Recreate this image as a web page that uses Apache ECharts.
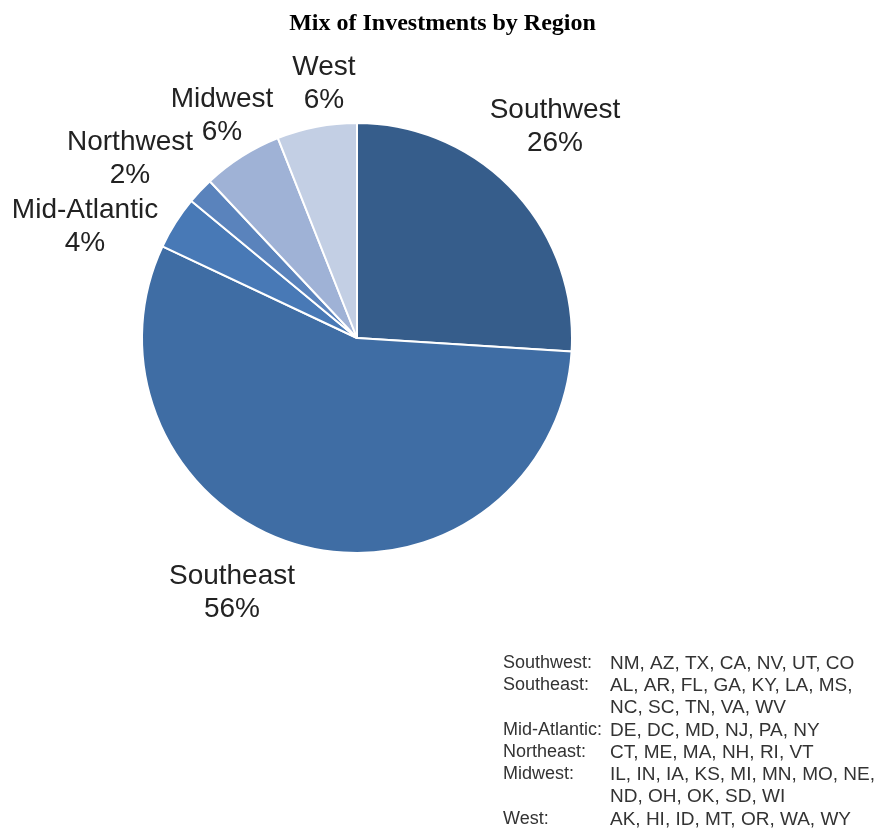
<!DOCTYPE html>
<html><head><meta charset="utf-8">
<script src="https://cdn.jsdelivr.net/npm/echarts@6/dist/echarts.min.js"></script>
<style>html,body{margin:0;padding:0;background:#fff}#c{width:885px;height:832px}</style>
</head><body><div id="c"></div>
<script>
const categories = ['Southwest','Southeast','Mid-Atlantic','Northwest','Midwest','West'];
const shares = [26, 56, 4, 2, 6, 6];
const legendRegions = ['Southwest:','Southeast:','','Mid-Atlantic:','Northeast:','Midwest:','','West:'];
const legendStates = ['NM, AZ, TX, CA, NV, UT, CO','AL, AR, FL, GA, KY, LA, MS,','NC, SC, TN, VA, WV','DE, DC, MD, NJ, PA, NY','CT, ME, MA, NH, RI, VT','IL, IN, IA, KS, MI, MN, MO, NE,','ND, OH, OK, SD, WI','AK, HI, ID, MT, OR, WA, WY'];

const colors = ['#365d8b','#3f6da4','#4879b6','#5a83bc','#9fb2d6','#c3cfe4'];
const labelPos = {
  'Southwest':[555,127],'Southeast':[232,593],'Mid-Atlantic':[85,227],
  'Northwest':[130,159],'Midwest':[222,116],'West':[324,84]
};
const chart = echarts.init(document.getElementById('c'));
const graphics = [];
const legendRows = [664,686,708,731,753,775,797,820];
legendRegions.forEach((t,i)=>{
  const y = legendRows[i];
  if (t) graphics.push({type:'text',left:503,top:y-10,style:{text:t,font:'18px "Liberation Sans", Arial',fill:'#333'}});
  graphics.push({type:'text',left:610,top:y-10,style:{text:legendStates[i],font:'19px "Liberation Sans", Arial',fill:'#333'}});
});
chart.setOption({
  animation:false,
  title:{text:'Mix of Investments by Region',left:'center',top:7,
    textStyle:{fontFamily:'"Liberation Serif", serif',fontWeight:'bold',fontSize:24,color:'#000'}},
  graphic:graphics,
  series:[{
    type:'pie',center:[357,338],radius:[0,215],startAngle:90,clockwise:true,
    itemStyle:{borderColor:'#fff',borderWidth:2},
    label:{show:true,formatter:'{b}\n{c}%',fontFamily:'"Liberation Sans", Arial',fontSize:28,color:'#222',lineHeight:33,align:'center',overflow:'none'},
    labelLine:{show:false},
    labelLayout:function(p){const q=labelPos[categories[p.dataIndex]];return {x:q[0],y:q[1],align:'center',verticalAlign:'middle'};},
    data:categories.map((c,i)=>({name:c,value:shares[i],itemStyle:{color:colors[i]}}))
  }]
});
</script></body></html>
